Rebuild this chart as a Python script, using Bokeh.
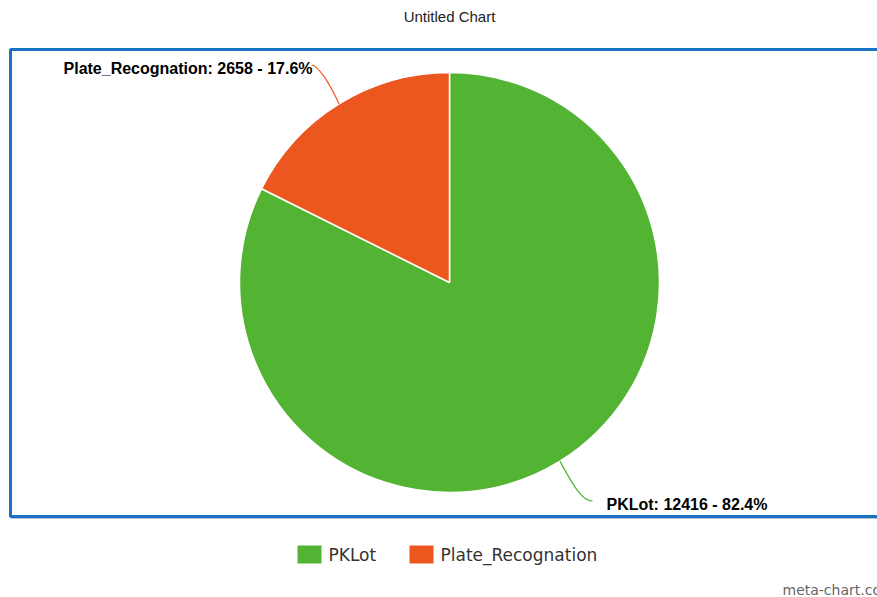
import math
from bokeh.plotting import figure
from bokeh.models import Range1d, ColumnDataSource
from bokeh.core.properties import value
from bokeh.embed import file_html
from bokeh.resources import INLINE

W, H = 877, 597

title = "Untitled Chart"
categories = ["PKLot", "Plate_Recognation"]
counts = [12416, 2658]
colors = ["#53b433", "#eb571e"]
watermark = "meta-chart.com"


def Y(y):
    return H - y


total = sum(counts)
fracs = [c / total for c in counts]
pcts = [f * 100 for f in fracs]

p = figure(width=W, height=H, x_range=Range1d(0, W), y_range=Range1d(0, H),
           output_backend="svg", toolbar_location=None,
           x_axis_type=None, y_axis_type=None, min_border=0)
p.outline_line_color = None
p.grid.visible = False
p.background_fill_color = "white"
p.border_fill_color = "white"

# frame border (with subtle shadow)
p.quad(left=[11], right=[W + 10], top=[Y(48)], bottom=[Y(518)],
       fill_color=None, line_color="#8a9bb0", line_width=1, line_alpha=0.6)
p.quad(left=[10], right=[W + 10], top=[Y(49)], bottom=[Y(516)],
       fill_color=None, line_color="#1a72c4", line_width=3)

# pie
cx, cy, r = 449, Y(282), 210
starts, ends, mids = [], [], []
cum = 0.0
for f in fracs:
    s = 90 - cum * 360
    e = 90 - (cum + f) * 360
    starts.append(s)
    ends.append(e)
    mids.append((s + e) / 2)
    cum += f

src = ColumnDataSource(dict(start=starts, end=ends, color=colors))
p.wedge(x=cx, y=cy, radius=r, start_angle="start", end_angle="end",
        start_angle_units="deg", end_angle_units="deg", direction="clock",
        fill_color="color", line_color="white", line_width=1.5, source=src)

# connectors and data labels
label_pos = [(606, Y(503.5), "left"), (312, Y(67.5), "right")]
for i, cat in enumerate(categories):
    m = math.radians(mids[i])
    x0 = cx + r * math.cos(m)
    y0 = cy + r * math.sin(m)
    lx, ly, align = label_pos[i]
    if align == "left":
        x1 = lx - 14
        y1 = ly + 3
        p.bezier(x0=[x0], y0=[y0], x1=[x1], y1=[y1],
                 cx0=[x0 + 14], cy0=[y0 - 26], cx1=[x1 - 10], cy1=[y1],
                 line_color=colors[i], line_width=1.2)
    else:
        x1 = lx - 1
        y1 = ly + 3
        p.bezier(x0=[x0], y0=[y0], x1=[x1], y1=[y1],
                 cx0=[x0 - 10], cy0=[y0 + 22], cx1=[x1 + 6], cy1=[y1],
                 line_color=colors[i], line_width=1.2)
    txt = f"{cat}: {counts[i]} - {pcts[i]:.1f}%"
    p.text(x=[lx], y=[ly], text=[txt], text_font=value("Liberation Sans"),
           text_font_style="bold", text_font_size="16px", text_color="#000000",
           text_align=align, text_baseline="middle")

# title
p.text(x=[449], y=[Y(15.5)], text=[title], text_font=value("Liberation Sans"),
       text_font_size="15px", text_color="#222222",
       text_align="center", text_baseline="middle")

# legend
leg_x = [297, 409]
for i, cat in enumerate(categories):
    p.rect(x=[leg_x[i] + 12], y=[Y(554)], width=24, height=18,
           fill_color=colors[i], line_color=None)
    p.text(x=[leg_x[i] + 31], y=[Y(554)], text=[cat], text_font=value("DejaVu Sans"),
           text_font_size="17px", text_color="#333333",
           text_align="left", text_baseline="middle")

# watermark (cut off at the right edge, as in the original)
p.text(x=[782], y=[Y(589)], text=[watermark], text_font=value("DejaVu Sans"),
       text_font_size="14px", text_color="#666666",
       text_align="left", text_baseline="middle")

open("out.html", "w").write(file_html(p, INLINE))
